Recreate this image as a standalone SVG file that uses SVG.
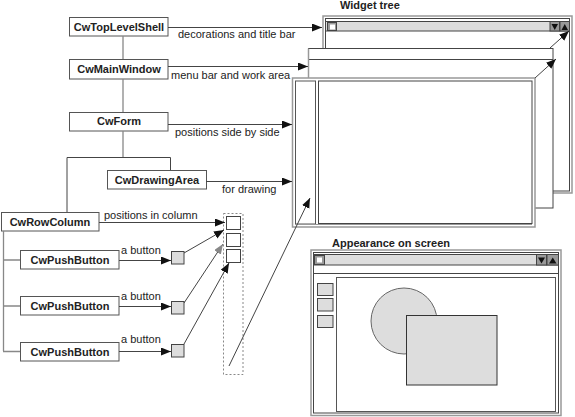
<svg xmlns="http://www.w3.org/2000/svg" width="575" height="417" viewBox="0 0 575 417">
<style>
text{font-family:"Liberation Sans",Arial,sans-serif;font-size:11px;fill:#222}
.b{font-weight:bold}
.node rect{fill:#fff;stroke:#555;stroke-width:1}
.node text{font-weight:bold;text-anchor:middle}
.c{fill:none;stroke:#444;stroke-width:1}
.t{fill:none;stroke:#888;stroke-width:1.3}
.o{fill:none;stroke:#999;stroke-width:1.5}
.i{fill:none;stroke:#444;stroke-width:1}
.w{fill:#fff}
.g{fill:#ddd;stroke:#444;stroke-width:1}
.btn{fill:#999;stroke:#444;stroke-width:1}
</style>
<defs>
<marker id="a" markerUnits="userSpaceOnUse" markerWidth="11" markerHeight="9" refX="10" refY="4" orient="auto"><path d="M0,0 L10,4 L0,8 z" fill="#111"/></marker>
<marker id="ag" markerUnits="userSpaceOnUse" markerWidth="11" markerHeight="9" refX="10" refY="4" orient="auto"><path d="M0,0 L10,4 L0,8 z" fill="#888"/></marker>
</defs>
<rect width="575" height="417" fill="#fff"/>

<text class="b" x="340" y="9">Widget tree</text>
<text class="b" x="332" y="247">Appearance on screen</text>

<!-- Widget tree windows -->
<g id="win-toplevel">
<rect x="323" y="16" width="249" height="177" class="o w"/>
<rect x="325.5" y="18.5" width="244" height="172.5" class="i"/>
<rect x="325.5" y="21.5" width="244" height="9.5" class="g"/>
<rect x="327.5" y="22.5" width="9" height="8" fill="#999" stroke="#444"/>
<rect x="330" y="24.5" width="5" height="5" fill="#fff"/>
<rect x="550" y="21.5" width="9.5" height="9.5" class="btn"/>
<path d="M551.5,24 h6.5 l-3.25,6 z" fill="#111"/>
<rect x="560" y="21.5" width="9.5" height="9.5" class="btn"/>
<path d="M561.5,30 h6.5 l-3.25,-6 z" fill="#111"/>
</g>
<g id="win-main">
<rect x="308.5" y="48.5" width="244.5" height="159.5" fill="#fff" stroke="#444"/>
<line x1="308.5" y1="59.5" x2="553" y2="59.5" class="i"/>
<line x1="308.5" y1="48.5" x2="308.5" y2="208" stroke="#999" stroke-width="1.5"/>
</g>
<g id="win-form">
<rect x="292.5" y="78" width="242.5" height="149" class="o w"/>
<rect x="295.5" y="81" width="20" height="143" fill="#fff" stroke="#555"/>
<rect x="318.5" y="81" width="213.5" height="142.5" fill="#fff" stroke="#444"/>
<line x1="295" y1="224.5" x2="532" y2="224.5" stroke="#999"/>
</g>

<!-- tree nodes -->
<g id="n-toplevel" class="node"><rect x="69.5" y="17.5" width="98.5" height="18.5"/><text x="119" y="31">CwTopLevelShell</text></g>
<g id="n-mainwindow" class="node"><rect x="69.5" y="59.5" width="98.5" height="19.5"/><text x="119" y="73">CwMainWindow</text></g>
<g id="n-form" class="node"><rect x="69.5" y="112.5" width="98.5" height="18.5"/><text x="119" y="125">CwForm</text></g>
<g id="n-drawingarea" class="node"><rect x="107.5" y="170.5" width="99" height="18.5"/><text x="157" y="184">CwDrawingArea</text></g>
<g id="n-rowcolumn" class="node"><rect x="1.5" y="212.5" width="97.5" height="18.5"/><text x="50" y="226">CwRowColumn</text></g>
<g id="n-pb1" class="node"><rect x="20.5" y="250.5" width="98.5" height="18.5"/><text x="70" y="264">CwPushButton</text></g>
<g id="n-pb2" class="node"><rect x="20.5" y="296.5" width="98.5" height="18.5"/><text x="70" y="310">CwPushButton</text></g>
<g id="n-pb3" class="node"><rect x="20.5" y="342.5" width="98.5" height="18.5"/><text x="70" y="356">CwPushButton</text></g>

<!-- small buttons and column -->
<g id="buttons">
<rect x="171.5" y="251.5" width="12.5" height="12.5" class="g"/>
<rect x="171.5" y="301.5" width="12.5" height="12.5" class="g"/>
<rect x="171.5" y="344.5" width="12.5" height="12.5" class="g"/>
</g>
<g id="column">
<rect x="223.5" y="213.5" width="19.5" height="161" fill="none" stroke="#888" stroke-dasharray="2,2"/>
<rect x="226.5" y="216.5" width="14" height="13" fill="#fff" stroke="#444"/>
<rect x="226.5" y="233.5" width="14" height="13" fill="#fff" stroke="#444"/>
<rect x="226.5" y="249.5" width="14" height="13" fill="#fff" stroke="#444"/>
</g>

<!-- connectors -->
<g id="connectors">
<path class="t" d="M123,36 V59 M123,79 V112 M123,131 V157"/>
<path class="c" d="M67,212 V157.5 H170.5 V170"/>
<path class="t" d="M3.5,231 V351 M3,260 H20 M3,306 H20 M3,351.5 H20"/>
<path class="c" d="M168,27.5 H322" marker-end="url(#a)"/>
<path class="c" d="M168,66.5 H308" marker-end="url(#a)"/>
<path class="c" d="M168,124.5 H292" marker-end="url(#a)"/>
<path class="c" d="M206,181.5 H292" marker-end="url(#a)"/>
<path class="c" d="M99,222.5 H225" marker-end="url(#a)"/>
<path class="c" d="M119,260.5 H171" marker-end="url(#a)"/>
<path class="c" d="M119,306.5 H171" marker-end="url(#a)"/>
<path class="c" d="M119,351.5 H171" marker-end="url(#a)"/>
<path class="c" d="M184,253 L224,230" marker-end="url(#a)"/>
<path class="c" d="M184,303 L223,244" marker-end="url(#ag)"/>
<path class="c" d="M184,344 L229,263" marker-end="url(#a)"/>
<path class="c" d="M229,366 L310,198" marker-end="url(#a)"/>
<path class="c" d="M535,78 L556,59" marker-end="url(#a)"/>
<path class="c" d="M550,48 L569,31" marker-end="url(#a)"/>
</g>

<!-- connector labels -->
<g id="labels">
<text x="178" y="38">decorations and title bar</text>
<text x="171" y="79">menu bar and work area</text>
<text x="175" y="136">positions side by side</text>
<text x="222" y="193">for drawing</text>
<text x="104" y="219">positions in column</text>
<text x="121" y="254">a button</text>
<text x="121" y="300">a button</text>
<text x="121" y="343">a button</text>
</g>

<!-- Appearance on screen -->
<g id="screen">
<rect x="311" y="250" width="250" height="165.5" class="o w"/>
<rect x="313.5" y="252.5" width="245" height="160.5" class="i"/>
<rect x="313.5" y="254.5" width="245" height="10.5" class="g"/>
<rect x="314.5" y="255.5" width="10" height="9" fill="#999" stroke="#444"/>
<rect x="317" y="257.5" width="5" height="5" fill="#fff"/>
<rect x="536.5" y="254.5" width="10" height="10.5" class="btn"/>
<path d="M538,257.5 h7 l-3.5,6 z" fill="#111"/>
<rect x="547" y="254.5" width="11.5" height="10.5" class="btn"/>
<path d="M549,263.5 h7.5 l-3.75,-6 z" fill="#111"/>
<line x1="313.5" y1="273.5" x2="558.5" y2="273.5" class="i"/>
<rect x="336.5" y="277.5" width="219" height="134" fill="#fff" stroke="#555"/>
<rect x="317.5" y="283.5" width="15.5" height="12" class="g"/>
<rect x="317.5" y="298.5" width="15.5" height="12.5" class="g"/>
<rect x="317.5" y="315.5" width="15.5" height="12" class="g"/>
<circle cx="404" cy="321" r="33" fill="#ddd" stroke="#666"/>
<rect x="406.5" y="315.5" width="90.5" height="69.5" fill="#ddd" stroke="#333"/>
</g>
</svg>
